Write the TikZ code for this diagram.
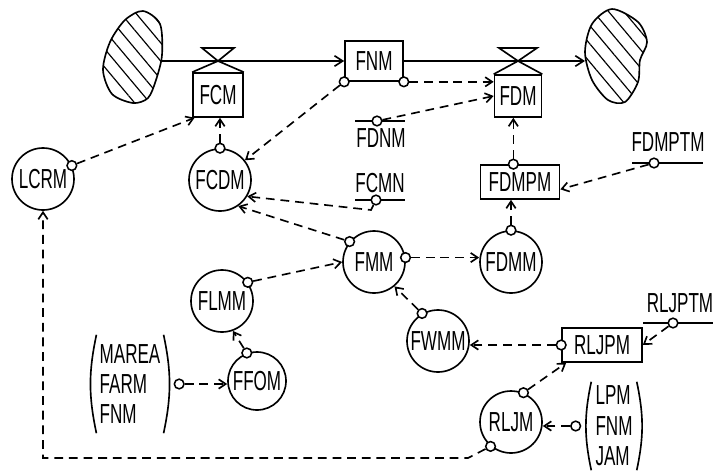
\documentclass[tikz,border=0pt]{standalone}
\usepackage{fontspec}
\setmainfont{Liberation Sans}[FakeStretch=0.62]
\usetikzlibrary{shapes.geometric, arrows.meta, calc, positioning, patterns.meta}
\tikzstyle{level} = [rectangle, line width=1.4pt, minimum width=1.74cm, minimum height=1.2cm, inner sep=0pt, draw=black]
\tikzstyle{rate} = [rectangle, line width=1.4pt, inner sep=0pt, draw=black]
\tikzstyle{aux} = [circle, line width=1.4pt, minimum size=1.86cm, inner sep=0pt, draw=black]
\tikzstyle{tap} = [circle, line width=1.3pt, minimum size=0.29cm, inner sep=0pt, fill=white, draw=black]
\tikzstyle{list} = [align=left, inner sep=0pt]
\tikzstyle{bar} = [line width=1.4pt]
\tikzstyle{flow} = [line width=1.4pt,-{Straight Barb[length=7pt,width=9pt]}]
\tikzstyle{info} = [line width=1.4pt,dash pattern=on 7.5pt off 5pt,-{Straight Barb[length=6pt,width=8pt]}]
\tikzstyle{cloud} = [line width=1.4pt, pattern={Lines[angle=-50,distance=10pt,line width=1pt]}]

\begin{document}
\begin{tikzpicture}[x=0.03cm, y=-0.03cm, font=\fontsize{23.5}{26}\selectfont]
		\useasboundingbox (0,0) rectangle (713,471);
		
		% sources and sinks
		\draw[cloud] plot[smooth cycle] coordinates {(143,11) (160,24) (162,55) (156,80) (148,98) (133,103) (112,94) (103,70) (110,42) (125,20)};
		\draw[cloud] plot[smooth cycle] coordinates {(612,9) (638,22) (647,42) (640,60) (638,82) (625,102) (608,100) (592,80) (585,52) (592,24)};
		\coordinate (Source) at (162,61);
		\coordinate (Sink) at (585,61);
		
		% levels and rates
		\node (FNM) [level] at (374,61) {FNM};
		\node (FCM) [rate, minimum width=1.5cm, minimum height=1.32cm, text depth=-0.2cm] at (218,95) {FCM};
		\node (FDM) [rate, minimum width=1.41cm, minimum height=1.26cm, text depth=-0.2cm] at (518,96) {FDM};
		\node (FDMPM) [rate, minimum width=2.37cm, minimum height=1.02cm] at (520,182) {FDMPM};
		\node (RLJPM) [rate, minimum width=2.4cm, minimum height=1.02cm] at (602,345) {RLJPM};
		\coordinate (FCMvalve) at (218,61);
		\coordinate (FDMvalve) at (518,61);
		\draw[bar] (FCM.north west) -- (FCMvalve) -- (FCM.north east);
		\draw[bar] (FCMvalve) -- ++(-16,-13) -- ++(32,0) -- cycle;
		\draw[bar] (FDM.north west) -- (FDMvalve) -- (FDM.north east);
		\draw[bar] (FDMvalve) -- ++(-19,-13) -- ++(38,0) -- cycle;
		
		% auxiliaries
		\node (LCRM) [aux] at (43,179) {LCRM};
		\node (FCDM) [aux] at (220,180) {FCDM};
		\node (FMM) [aux] at (374,262) {FMM};
		\node (FDMM) [aux] at (511,262) {FDMM};
		\node (FLMM) [aux] at (222,301) {FLMM};
		\node (FFOM) [aux, minimum size=1.74cm] at (257,381) {FFOM};
		\node (FWMM) [aux] at (438,341) {FWMM};
		\node (RLJM) [aux] at (511,422) {RLJM};
		
		% constants
		\node (FDNM) at (381,138) {FDNM};
		\node (FCMN) at (380,183) {FCMN};
		\node (FDMPTM) at (668,142) {FDMPTM};
		\node (RLJPTM) at (680,303) {RLJPTM};
		\draw[bar] (355,121) -- (405,121);
		\draw[bar] (355,200) -- (405,200);
		\draw[bar] (632,163) -- (703,163);
		\draw[bar] (643,323) -- (713,323);
		
		% input lists
		\node (MAREAlist) [list, minimum width=2.0cm, minimum height=2.94cm] at (130,384) {MAREA\\FARM\\FNM};
		\node (LPMlist) [list, minimum width=1.35cm, minimum height=2.64cm] at (614,426) {LPM\\FNM\\JAM};
		\draw[bar] (MAREAlist.north west) to[bend right=12] (MAREAlist.south west);
		\draw[bar] (MAREAlist.north east) to[bend left=12] (MAREAlist.south east);
		\draw[bar] (LPMlist.north west) to[bend right=12] (LPMlist.south west);
		\draw[bar] (LPMlist.north east) to[bend left=12] (LPMlist.south east);
		
		% pick-off points
		\node (FNMtapL) [tap] at (FNM.south west) {};
		\node (FNMtapR) [tap] at (FNM.south east) {};
		\node (FDNMtap) [tap] at (377,121) {};
		\node (FCMNtap) [tap] at (376,200) {};
		\node (FDMPTMtap) [tap] at (654,163) {};
		\node (RLJPTMtap) [tap] at (673,323) {};
		\node (FCDMtap) [tap] at (FCDM.north) {};
		\node (LCRMtap) [tap] at (LCRM.25) {};
		\node (FDMPMtap) [tap] at ([xshift=-0.2cm]FDMPM.north) {};
		\node (FDMMtap) [tap] at (FDMM.north) {};
		\node (FMMtapL) [tap] at (FMM.140) {};
		\node (FMMtapR) [tap] at (FMM.8) {};
		\node (FLMMtap) [tap] at (FLMM.36) {};
		\node (FFOMtap) [tap] at (FFOM.110) {};
		\node (FWMMtap) [tap] at (FWMM.120) {};
		\node (RLJPMtap) [tap] at (RLJPM.west) {};
		\node (RLJMtap) [tap] at (RLJM.67) {};
		\node (RLJMtapB) [tap] at (RLJM.-130) {};
		\node (MAREAtap) [tap, right=0.3cm of MAREAlist] {};
		\node (LPMtap) [tap, left=0.3cm of LPMlist] {};
		\coordinate (LoopCorner) at (468,458);
		
		\draw [flow] (Source) -- (FNM);
		\draw [flow] (FNM) -- (Sink);
		
		\draw [info] (FNMtapL) -- (FCDM);
		\draw [info] (FNMtapR) -- (FNMtapR -| FDM.west);
		\draw [info] (FDNMtap) -- (FDM.west);
		\draw [info] (FCDMtap) -- (FCDMtap |- FCM.south);
		\draw [info] (LCRMtap) -- ([xshift=2pt]FCM.south west);
		\draw [info] (FCMNtap) -- ++(-5,10) -- (FCDM.-31);
		\draw [info] (FMMtapL) -- (FCDM.-55);
		\draw [info] (FDMPMtap) -- (FDMPMtap |- FDM.south);
		\draw [info] (FDMMtap) -- (FDMMtap |- FDMPM.south);
		\draw [info] (FDMPTMtap) -- ([yshift=-0.22cm]FDMPM.east);
		\draw [info] (FLMMtap) -- (FMM.west);
		\draw [info] (FMMtapR) -- (FMMtapR -| FDMM.west);
		\draw [info] (FFOMtap) -- (FLMM.-70);
		\draw [info] (MAREAtap) -- (MAREAtap -| FFOM.west);
		\draw [info] (FWMMtap) -- (FMM.-50);
		\draw [info] (RLJPMtap) -- (RLJPMtap -| FWMM.east);
		\draw [info] (RLJPTMtap) -- (RLJPM.east);
		\draw [info] (RLJMtap) -- ([xshift=0.15cm]RLJPM.south west);
		\draw [info] (LPMtap) -- (LPMtap -| RLJM.east);
		\draw [info] (RLJMtapB) -- (LoopCorner) -| (LCRM.south);
\end{tikzpicture}
\end{document}
